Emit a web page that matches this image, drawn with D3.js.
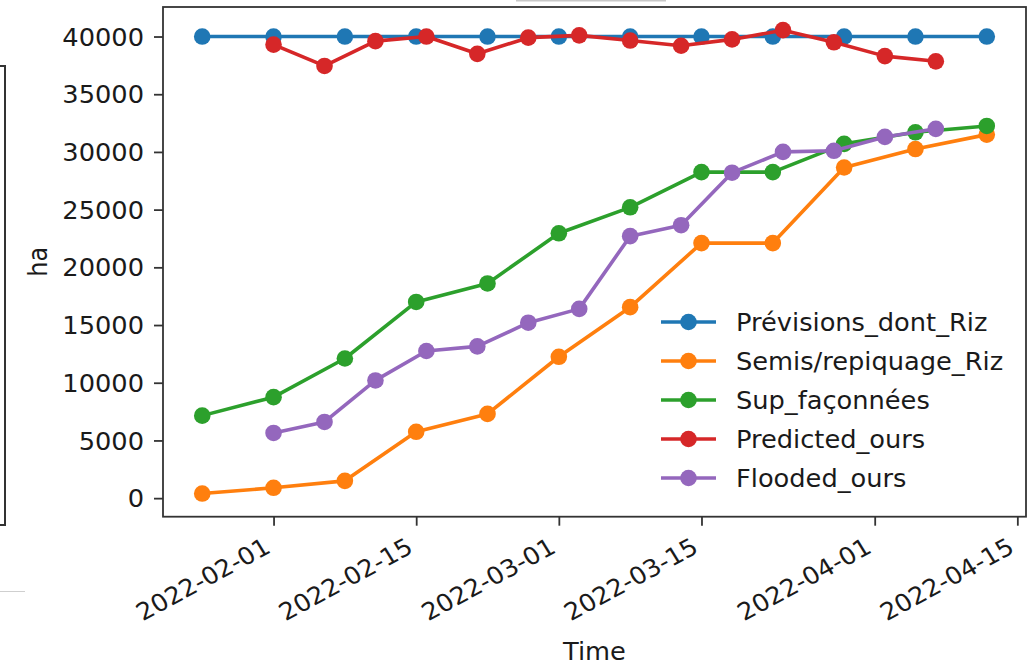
<!DOCTYPE html>
<html>
<head>
<meta charset="utf-8">
<script src="https://cdn.jsdelivr.net/npm/d3@7"></script>
<style>
  html, body { margin: 0; padding: 0; background: #fff; }
  svg { display: block; }
  text { font-family: "DejaVu Sans", sans-serif; fill: #1a1a1a; }
</style>
</head>
<body>
<svg id="chart" width="1028" height="666"></svg>
<script>
// ---- data ----
const weeklyDates = ["2022-01-25","2022-02-01","2022-02-08","2022-02-15","2022-02-22","2022-03-01",
                     "2022-03-08","2022-03-15","2022-03-22","2022-03-29","2022-04-05","2022-04-12"];
const oursDates = ["2022-02-01","2022-02-06","2022-02-11","2022-02-16","2022-02-21","2022-02-26","2022-03-03",
                   "2022-03-08","2022-03-13","2022-03-18","2022-03-23","2022-03-28","2022-04-02","2022-04-07"];
const previsions = [40000,40000,40000,40000,40000,40000,40000,40000,40000,40000,40000,40000];
const semis = [400,900,1500,5750,7300,12250,16550,22100,22100,28650,30250,31500];
const supFaconnees = [7150,8750,12100,17000,18600,22950,25200,28250,28250,30700,31700,32250];
const predicted = [39300,37450,39600,40000,38500,39900,40100,39650,39200,39750,40550,39500,38300,37850];
const flooded = [5650,6600,10200,12750,13150,15200,16400,22700,23650,28200,30000,30100,31300,32000];
const seriesNames = ["Prévisions_dont_Riz","Semis/repiquage_Riz","Sup_façonnées","Predicted_ours","Flooded_ours"];
const seriesColors = ["#1f77b4","#ff7f0e","#2ca02c","#d62728","#9467bd"];
const xTickDates = ["2022-02-01","2022-02-15","2022-03-01","2022-03-15","2022-04-01","2022-04-15"];
const yTickValues = [0,5000,10000,15000,20000,25000,30000,35000,40000];
const xLabel = "Time";
const yLabel = "ha";

// ---- build ----
const parse = d3.utcParse("%Y-%m-%d");
const series = [
  {dates: weeklyDates, values: previsions},
  {dates: weeklyDates, values: semis},
  {dates: weeklyDates, values: supFaconnees},
  {dates: oursDates, values: predicted},
  {dates: oursDates, values: flooded}
].map((s, i) => ({
  name: seriesNames[i], color: seriesColors[i],
  points: s.values.map((v, j) => ({date: parse(s.dates[j]), value: v}))
}));

const pLeft = 163, pRight = 1026, pTop = 7, pBottom = 516.7;
const SX = 1.07; // horizontal stretch of the text in the reference picture
const allPts = series.flatMap(s => s.points);
const [xmin, xmax] = d3.extent(allPts, d => +d.date);
const [ymin, ymax] = d3.extent(allPts, d => d.value);
const xm = (xmax - xmin) * 0.05, ym = (ymax - ymin) * 0.05;

const x = d3.scaleUtc().domain([new Date(xmin - xm), new Date(xmax + xm)]).range([pLeft, pRight]);
const y = d3.scaleLinear().domain([ymin - ym, ymax + ym]).range([pBottom, pTop]);

const svg = d3.select("#chart");

// screenshot artifacts (cropped surroundings)
svg.append("path").attr("d", "M0,66 H5 V525 H0").attr("fill", "none").attr("stroke", "#333").attr("stroke-width", 2);
svg.append("line").attr("x1", 516).attr("x2", 666).attr("y1", 0.5).attr("y2", 0.5).attr("stroke", "#c8c8c8").attr("stroke-width", 2);
svg.append("line").attr("x1", 0).attr("x2", 25).attr("y1", 591.5).attr("y2", 591.5).attr("stroke", "#cfcfcf").attr("stroke-width", 1);

const g = svg.append("g");

// axes
const fmt = d3.utcFormat("%Y-%m-%d");
const xAxis = d3.axisBottom(x).tickValues(xTickDates.map(parse)).tickFormat(fmt).tickSize(9).tickPadding(0);
const gx = g.append("g").attr("transform", `translate(0,${pBottom})`).call(xAxis);
gx.select(".domain").remove();
gx.selectAll(".tick line").attr("stroke", "#333").attr("stroke-width", 1.8);
gx.selectAll(".tick text")
  .attr("font-size", 24).attr("font-family", "DejaVu Sans").attr("fill", "#1a1a1a")
  .attr("text-anchor", "end").attr("y", 0).attr("dy", 0)
  .attr("transform", `translate(-2,35) scale(${SX},1) rotate(-30)`);

const yAxis = d3.axisLeft(y).tickValues(yTickValues).tickFormat(d3.format("d")).tickSize(9).tickPadding(8);
const gy = g.append("g").attr("transform", `translate(${pLeft},0)`).call(yAxis);
gy.select(".domain").remove();
gy.selectAll(".tick line").attr("stroke", "#333").attr("stroke-width", 1.8);
gy.selectAll(".tick text").attr("font-size", 24).attr("font-family", "DejaVu Sans").attr("fill", "#1a1a1a")
  .attr("x", 0).attr("dy", "0.36em").attr("transform", `translate(-19,0) scale(${SX},1)`);

// spines
g.append("rect").attr("x", pLeft).attr("y", pTop).attr("width", pRight - pLeft).attr("height", pBottom - pTop)
  .attr("fill", "none").attr("stroke", "#333").attr("stroke-width", 1.8);

// lines
const line = d3.line().x(d => x(d.date)).y(d => y(d.value));
series.forEach(s => {
  const sg = g.append("g");
  sg.append("path").attr("d", line(s.points)).attr("fill", "none").attr("stroke", s.color)
    .attr("stroke-width", 3.6).attr("stroke-linejoin", "round");
  sg.selectAll("circle").data(s.points).join("circle")
    .attr("cx", d => x(d.date)).attr("cy", d => y(d.value)).attr("r", 8.3).attr("fill", s.color);
});

// axis labels
g.append("text").attr("transform", `translate(${(pLeft + pRight) / 2},660) scale(${SX},1)`)
  .attr("text-anchor", "middle").attr("font-size", 24).text(xLabel);
g.append("text").attr("transform", `translate(47,${(pTop + pBottom) / 2}) scale(${SX},1) rotate(-90)`)
  .attr("text-anchor", "middle").attr("font-size", 24).text(yLabel);

// legend
const lg = g.append("g");
series.forEach((s, i) => {
  const cy = 322 + i * 39;
  lg.append("line").attr("x1", 661).attr("x2", 716).attr("y1", cy).attr("y2", cy).attr("stroke", s.color).attr("stroke-width", 3.6);
  lg.append("circle").attr("cx", 688.5).attr("cy", cy).attr("r", 8.3).attr("fill", s.color);
  lg.append("text").attr("transform", `translate(736,${cy}) scale(${SX},1)`)
    .attr("dy", "0.36em").attr("font-size", 24).text(s.name);
});
</script>
</body>
</html>
